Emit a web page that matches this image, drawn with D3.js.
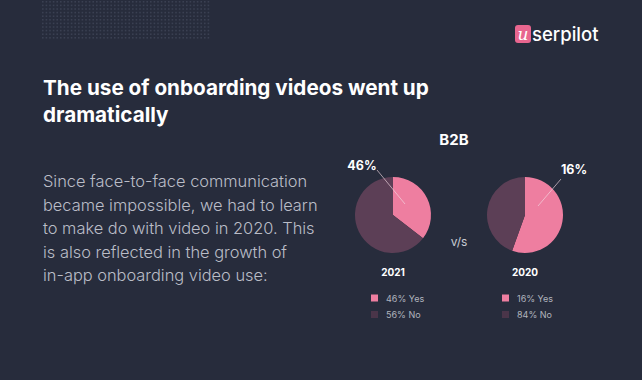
<!DOCTYPE html>
<html><head><meta charset="utf-8">
<script src="https://cdn.jsdelivr.net/npm/d3@7"></script>
<style>html,body{margin:0;padding:0;background:#272c3c;}svg{display:block;}</style>
</head><body>
<svg id="c" width="642" height="380"></svg>
<script>
// ---- data ----
const years = ["2021", "2020"];
const calloutLabels = ["46%", "16%"];
const yesLabels = ["46% Yes", "16% Yes"];
const noLabels = ["56% No", "84% No"];
// slice shares as drawn in the picture (yes, no)
const yesShare = [35.5, 55.5];
const noShare = [64.5, 44.5];
const bodyLines = [
  "Since face-to-face communication",
  "became impossible, we had to learn",
  "to make do with video in 2020. This",
  "is also reflected in the growth of",
  "in-app onboarding video use:"
];
const titleLines = ["The use of onboarding videos went up", "dramatically"];

const pink = "#ee7ea0", dark = "#5c3f56", darkLegend = "#4a3549";
const svg = d3.select("#c");
const F = "Inter, 'Noto Sans', sans-serif";

svg.append("rect").attr("width", 642).attr("height", 380).attr("fill", "#272c3c");

// dotted texture top-left
const dots = svg.append("g").attr("fill", "#3a4052");
for (let x = 42; x <= 210; x += 3.6) for (let y = 1; y <= 38; y += 3.6)
  dots.append("rect").attr("x", x).attr("y", y).attr("width", 1.6).attr("height", 1.6);

// logo
svg.append("rect").attr("x", 515).attr("y", 25).attr("width", 16).attr("height", 18).attr("rx", 3).attr("fill", "#e8668f");
svg.append("text").attr("x", 523).attr("y", 40).attr("text-anchor", "middle").attr("fill", "#fff")
  .attr("font-family", "'DejaVu Serif', serif").attr("font-style", "italic").attr("font-size", 17).text("u");
svg.append("text").attr("x", 532).attr("y", 41).attr("fill", "#fff").attr("font-family", F)
  .attr("font-size", 18.5).attr("font-weight", 500).text("serpilot");

// title
svg.append("g").selectAll("text").data(titleLines).join("text")
  .attr("x", 43).attr("y", (d, i) => 95 + i * 27)
  .attr("fill", "#fff").attr("font-family", F).attr("font-weight", 700).attr("font-size", 20.7).text(d => d);

// body
svg.append("g").selectAll("text").data(bodyLines).join("text")
  .attr("x", 43).attr("y", (d, i) => 187 + i * 23.6)
  .attr("fill", "#babdc7").attr("font-family", F).attr("font-weight", 300).attr("font-size", 16.4).text(d => d);

// B2B + v/s
svg.append("text").attr("x", 454).attr("y", 145).attr("text-anchor", "middle").attr("fill", "#fff")
  .attr("font-family", F).attr("font-weight", 700).attr("font-size", 15).text("B2B");
svg.append("text").attr("x", 459).attr("y", 246).attr("text-anchor", "middle").attr("fill", "#c9ccd4")
  .attr("font-family", F).attr("font-size", 12).text("v/s");

// pies
const cx = d3.scalePoint().domain(years).range([393, 525]);
const pie = d3.pie().sort(null).value(d => d.v);
const arc = d3.arc().innerRadius(0).outerRadius(38);
const calloutText = [[362, 170], [574, 174]];
const calloutLine = [[[377, 170], [405, 204]], [[561, 179], [538, 206]]];

years.forEach((yr, i) => {
  const g = svg.append("g").attr("transform", `translate(${cx(yr)},215)`);
  g.selectAll("path").data(pie([{k: "yes", v: yesShare[i]}, {k: "no", v: noShare[i]}])).join("path")
    .attr("d", arc).attr("fill", d => d.data.k === "yes" ? pink : dark);
  svg.append("text").attr("x", cx(yr)).attr("y", 276).attr("text-anchor", "middle").attr("fill", "#fff")
    .attr("font-family", F).attr("font-weight", 700).attr("font-size", 10).text(yr);
  svg.append("line").attr("x1", calloutLine[i][0][0]).attr("y1", calloutLine[i][0][1])
    .attr("x2", calloutLine[i][1][0]).attr("y2", calloutLine[i][1][1])
    .attr("stroke", "#f4dbe3").attr("stroke-width", 0.8).attr("opacity", 0.8);
  svg.append("text").attr("x", calloutText[i][0]).attr("y", calloutText[i][1]).attr("text-anchor", "middle")
    .attr("fill", "#fff").attr("font-family", F).attr("font-weight", 700).attr("font-size", 12.5).text(calloutLabels[i]);
  // legend
  const lx = i === 0 ? 371 : 502;
  [[yesLabels[i], pink], [noLabels[i], darkLegend]].forEach((r, j) => {
    svg.append("rect").attr("x", lx).attr("y", 294.5 + j * 16.5).attr("width", 7).attr("height", 7).attr("fill", r[1]);
    svg.append("text").attr("x", lx + 15).attr("y", 301.5 + j * 16.5).attr("fill", "#b0b4be")
      .attr("font-family", F).attr("font-size", 9).text(r[0]);
  });
});
</script>
</body></html>
